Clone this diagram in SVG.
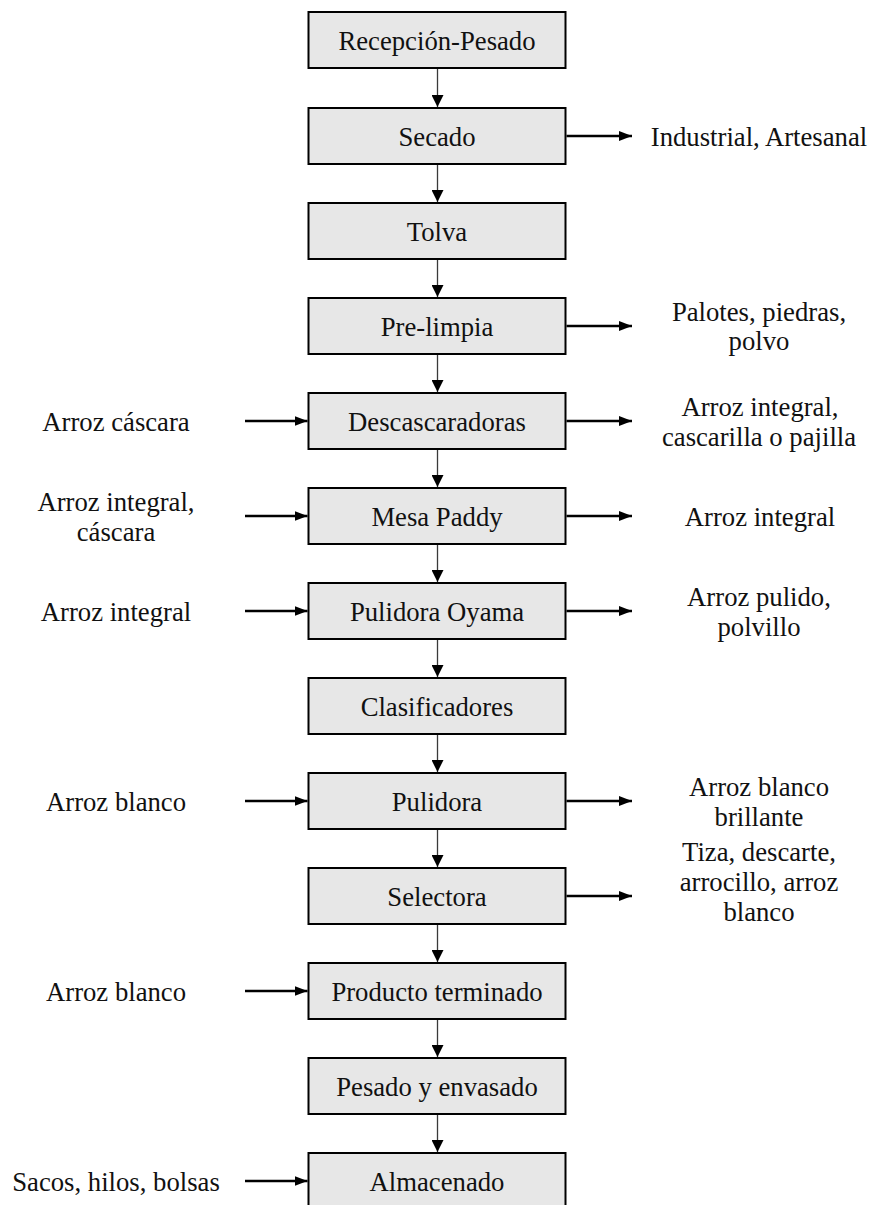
<svg xmlns="http://www.w3.org/2000/svg" width="871" height="1205" viewBox="0 0 871 1205">
  <defs>
    <style>
      .box { fill: #e7e7e7; stroke: #000; stroke-width: 2; }
      .lbl { font-family: "Liberation Serif", "Times New Roman", serif; font-size: 26.7px; fill: #111; text-anchor: middle; }
      .flow { stroke: #3a3a3a; stroke-width: 1.3; fill: none; }
      .side { stroke: #000; stroke-width: 2.3; fill: none; }
    </style>
    <marker id="headDown" markerUnits="userSpaceOnUse" markerWidth="12" markerHeight="12" refX="12" refY="6" orient="auto">
      <path d="M0,0 L12,6 L0,12 z" fill="#000"/>
    </marker>
    <marker id="headSide" markerUnits="userSpaceOnUse" markerWidth="13" markerHeight="10" refX="13" refY="5" orient="auto">
      <path d="M0,0 L13,5 L0,10 z" fill="#000"/>
    </marker>
  </defs>
  <rect width="871" height="1205" fill="#fff"/>

  <!-- connectors -->
  <g id="connectors">
    <!-- main vertical flow -->
    <line class="flow" x1="437.5" y1="68" x2="437.5" y2="107" marker-end="url(#headDown)"/>
    <line class="flow" x1="437.5" y1="164" x2="437.5" y2="202" marker-end="url(#headDown)"/>
    <line class="flow" x1="437.5" y1="259" x2="437.5" y2="297" marker-end="url(#headDown)"/>
    <line class="flow" x1="437.5" y1="354" x2="437.5" y2="392" marker-end="url(#headDown)"/>
    <line class="flow" x1="437.5" y1="449" x2="437.5" y2="487" marker-end="url(#headDown)"/>
    <line class="flow" x1="437.5" y1="544" x2="437.5" y2="582" marker-end="url(#headDown)"/>
    <line class="flow" x1="437.5" y1="639" x2="437.5" y2="677" marker-end="url(#headDown)"/>
    <line class="flow" x1="437.5" y1="734" x2="437.5" y2="772" marker-end="url(#headDown)"/>
    <line class="flow" x1="437.5" y1="829" x2="437.5" y2="867" marker-end="url(#headDown)"/>
    <line class="flow" x1="437.5" y1="924" x2="437.5" y2="962" marker-end="url(#headDown)"/>
    <line class="flow" x1="437.5" y1="1019" x2="437.5" y2="1057" marker-end="url(#headDown)"/>
    <line class="flow" x1="437.5" y1="1114" x2="437.5" y2="1152" marker-end="url(#headDown)"/>
    <!-- outputs -->
    <line class="side" x1="566.5" y1="136" x2="632" y2="136" marker-end="url(#headSide)"/>
    <line class="side" x1="566.5" y1="326" x2="632" y2="326" marker-end="url(#headSide)"/>
    <line class="side" x1="566.5" y1="421" x2="632" y2="421" marker-end="url(#headSide)"/>
    <line class="side" x1="566.5" y1="516" x2="632" y2="516" marker-end="url(#headSide)"/>
    <line class="side" x1="566.5" y1="611" x2="632" y2="611" marker-end="url(#headSide)"/>
    <line class="side" x1="566.5" y1="801" x2="632" y2="801" marker-end="url(#headSide)"/>
    <line class="side" x1="566.5" y1="896" x2="632" y2="896" marker-end="url(#headSide)"/>
    <!-- inputs -->
    <line class="side" x1="245" y1="421" x2="307.5" y2="421" marker-end="url(#headSide)"/>
    <line class="side" x1="245" y1="516" x2="307.5" y2="516" marker-end="url(#headSide)"/>
    <line class="side" x1="245" y1="611" x2="307.5" y2="611" marker-end="url(#headSide)"/>
    <line class="side" x1="245" y1="801" x2="307.5" y2="801" marker-end="url(#headSide)"/>
    <line class="side" x1="245" y1="991" x2="307.5" y2="991" marker-end="url(#headSide)"/>
    <line class="side" x1="245" y1="1181" x2="307.5" y2="1181" marker-end="url(#headSide)"/>
  </g>

  <!-- process steps -->
  <g id="recepcion"><rect class="box" x="308.5" y="12" width="257" height="56"/><text class="lbl" x="437" y="50">Recepción-Pesado</text></g>
  <g id="secado"><rect class="box" x="308.5" y="108" width="257" height="56"/><text class="lbl" x="437" y="146">Secado</text></g>
  <g id="tolva"><rect class="box" x="308.5" y="203" width="257" height="56"/><text class="lbl" x="437" y="241">Tolva</text></g>
  <g id="prelimpia"><rect class="box" x="308.5" y="298" width="257" height="56"/><text class="lbl" x="437" y="336">Pre-limpia</text></g>
  <g id="descascaradoras"><rect class="box" x="308.5" y="393" width="257" height="56"/><text class="lbl" x="437" y="431">Descascaradoras</text></g>
  <g id="mesa-paddy"><rect class="box" x="308.5" y="488" width="257" height="56"/><text class="lbl" x="437" y="526">Mesa Paddy</text></g>
  <g id="pulidora-oyama"><rect class="box" x="308.5" y="583" width="257" height="56"/><text class="lbl" x="437" y="621">Pulidora Oyama</text></g>
  <g id="clasificadores"><rect class="box" x="308.5" y="678" width="257" height="56"/><text class="lbl" x="437" y="716">Clasificadores</text></g>
  <g id="pulidora"><rect class="box" x="308.5" y="773" width="257" height="56"/><text class="lbl" x="437" y="811">Pulidora</text></g>
  <g id="selectora"><rect class="box" x="308.5" y="868" width="257" height="56"/><text class="lbl" x="437" y="906">Selectora</text></g>
  <g id="producto-terminado"><rect class="box" x="308.5" y="963" width="257" height="56"/><text class="lbl" x="437" y="1001">Producto terminado</text></g>
  <g id="pesado-envasado"><rect class="box" x="308.5" y="1058" width="257" height="56"/><text class="lbl" x="437" y="1096">Pesado y envasado</text></g>
  <g id="almacenado"><rect class="box" x="308.5" y="1153" width="257" height="56"/><text class="lbl" x="437" y="1191">Almacenado</text></g>

  <!-- outputs (right) -->
  <g id="out-secado"><text class="lbl" x="759" y="146">Industrial, Artesanal</text></g>
  <g id="out-prelimpia"><text class="lbl" x="759" y="321">Palotes, piedras,</text><text class="lbl" x="759" y="350">polvo</text></g>
  <g id="out-descascaradoras"><text class="lbl" x="760" y="416">Arroz integral,</text><text class="lbl" x="759" y="445.5">cascarilla o pajilla</text></g>
  <g id="out-mesa"><text class="lbl" x="760" y="526">Arroz integral</text></g>
  <g id="out-oyama"><text class="lbl" x="759" y="606">Arroz pulido,</text><text class="lbl" x="759" y="635.5">polvillo</text></g>
  <g id="out-pulidora"><text class="lbl" x="759" y="796">Arroz blanco</text><text class="lbl" x="759" y="825.5">brillante</text></g>
  <g id="out-selectora"><text class="lbl" x="759" y="861">Tiza, descarte,</text><text class="lbl" x="759" y="891">arrocillo, arroz</text><text class="lbl" x="759" y="921">blanco</text></g>

  <!-- inputs (left) -->
  <g id="in-descascaradoras"><text class="lbl" x="116" y="431">Arroz cáscara</text></g>
  <g id="in-mesa"><text class="lbl" x="116" y="511">Arroz integral,</text><text class="lbl" x="116" y="540.5">cáscara</text></g>
  <g id="in-oyama"><text class="lbl" x="116" y="621">Arroz integral</text></g>
  <g id="in-pulidora"><text class="lbl" x="116" y="811">Arroz blanco</text></g>
  <g id="in-producto"><text class="lbl" x="116" y="1001">Arroz blanco</text></g>
  <g id="in-almacenado"><text class="lbl" x="116" y="1191">Sacos, hilos, bolsas</text></g>
</svg>
